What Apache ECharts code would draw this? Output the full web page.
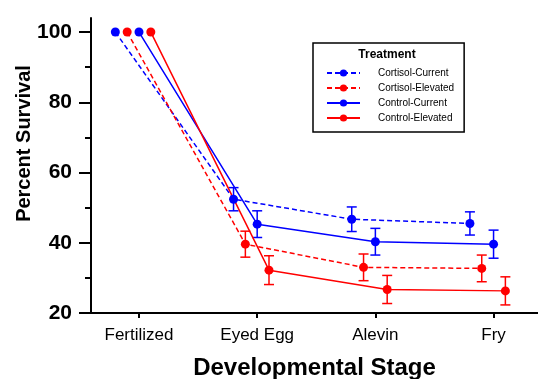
<!DOCTYPE html>
<html>
<head>
<meta charset="utf-8">
<script src="https://cdn.jsdelivr.net/npm/echarts@6/dist/echarts.min.js"></script>
<style>
  html, body { margin: 0; padding: 0; background: #fff; }
  #chart { width: 538px; height: 379px; }
</style>
</head>
<body>
<div id="chart"></div>
<script>
// stages on the x axis
var stages = ['Fertilized', 'Eyed Egg', 'Alevin', 'Fry']
var yTicks = [20, 40, 60, 80, 100]
var yMinorTicks = [30, 50, 70, 90]

// mean percent survival per treatment
var cortisolCurrent = [100, 52.4, 46.7, 45.5]
var cortisolElevated = [100, 39.6, 33.0, 32.7]
var controlCurrent = [100, 45.3, 40.3, 39.6]
var controlElevated = [100, 32.2, 26.7, 26.3]

// error (+/-) per treatment
var cortisolCurrentErr = [0, 3.3, 3.5, 3.3]
var cortisolElevatedErr = [0, 3.7, 3.8, 3.8]
var controlCurrentErr = [0, 3.8, 3.8, 4.0]
var controlElevatedErr = [0, 4.1, 4.0, 4.0]

var BLUE = '#0000ff'
var RED = '#ff0000'
var FONT = 'Liberation Sans, Arial, sans-serif'

// horizontal dodge so the groups do not overlap
function pts(values, dodge) {
    return values.map(function (v, i) { return [i + dodge, v] })
}

function lineSeries(name, color, values, dodge, dashed) {
    return {
        name: name,
        type: 'line',
        data: pts(values, dodge),
        symbol: 'circle',
        symbolSize: 9,
        itemStyle: { color: color },
        lineStyle: { color: color, width: 1.5, type: dashed ? [5, 3] : 'solid' },
        z: 3
    }
}

function errSeries(name, color, values, errs, dodge) {
    return {
        name: name + ' err',
        type: 'custom',
        silent: true,
        data: values.map(function (v, i) { return [i + dodge, v - errs[i], v + errs[i]] }),
        encode: { x: 0, y: [1, 2] },
        renderItem: function (params, api) {
            if (api.value(2) - api.value(1) === 0) return
            var lo = api.coord([api.value(0), api.value(1)])
            var hi = api.coord([api.value(0), api.value(2)])
            var w = 5
            var style = { stroke: color, lineWidth: 1.5 }
            return {
                type: 'group',
                children: [
                    { type: 'line', shape: { x1: hi[0], y1: hi[1], x2: lo[0], y2: lo[1] }, style: style },
                    { type: 'line', shape: { x1: hi[0] - w, y1: hi[1], x2: hi[0] + w, y2: hi[1] }, style: style },
                    { type: 'line', shape: { x1: lo[0] - w, y1: lo[1], x2: lo[0] + w, y2: lo[1] }, style: style }
                ]
            }
        },
        z: 2
    }
}

var myChart = echarts.init(document.getElementById('chart'))
var option = {
    backgroundColor: '#FFFFFF',
    animation: false,
    grid: { left: 91, right: 0, top: 18, bottom: 66, outerBoundsMode: 'none' },
    graphic: [{
        type: 'text',
        x: 387,
        y: 49,
        style: { text: 'Treatment', font: 'bold 12px ' + FONT, fill: '#000', textAlign: 'center' }
    }],
    legend: {
        orient: 'vertical',
        left: 313,
        top: 43,
        padding: [25, 10, 9, 13],
        borderColor: '#000',
        borderWidth: 1.5,
        itemWidth: 33,
        itemHeight: 9,
        itemGap: 5,
        data: ['Cortisol-Current', 'Cortisol-Elevated', 'Control-Current', 'Control-Elevated'],
        textStyle: { fontFamily: FONT, fontSize: 10, color: '#000', padding: [0, 0, 0, 13] }
    },
    xAxis: {
        type: 'value',
        min: -0.406,
        max: 3.376,
        name: 'Developmental Stage',
        nameLocation: 'middle',
        nameGap: 43,
        nameMoveOverlap: false,
        nameTextStyle: { fontFamily: FONT, fontSize: 24, fontWeight: 'bold', color: '#000' },
        splitLine: { show: false },
        axisLine: { onZero: false, lineStyle: { color: '#000', width: 2 } },
        axisTick: { customValues: [0, 1, 2, 3], length: 5, lineStyle: { color: '#000', width: 2 } },
        axisLabel: {
            customValues: [0, 1, 2, 3],
            margin: 14,
            fontFamily: FONT,
            fontSize: 17,
            color: '#000',
            formatter: function (v) { return stages[Math.round(v)] }
        }
    },
    yAxis: [{
        type: 'value',
        min: 20,
        max: 104,
        name: 'Percent Survival',
        nameLocation: 'middle',
        nameGap: 57,
        nameMoveOverlap: false,
        nameTextStyle: { fontFamily: FONT, fontSize: 20, fontWeight: 'bold', color: '#000', padding: [0, 0, 0, 44] },
        splitLine: { show: false },
        axisLine: { show: true, onZero: false, lineStyle: { color: '#000', width: 2 } },
        axisTick: { customValues: yTicks, length: 12, lineStyle: { color: '#000', width: 2 } },
        axisLabel: {
            customValues: yTicks,
            margin: 19,
            fontFamily: FONT,
            fontSize: 21,
            fontWeight: 'bold',
            color: '#000'
        }
    }, {
        type: 'value',
        min: 20,
        max: 104,
        position: 'left',
        splitLine: { show: false },
        axisLine: { show: false, onZero: false },
        axisTick: { show: true, customValues: yMinorTicks, length: 6, lineStyle: { color: '#000', width: 2 } },
        axisLabel: { show: false }
    }],
    series: [
        errSeries('Cortisol-Current', BLUE, cortisolCurrent, cortisolCurrentErr, -0.2),
        errSeries('Cortisol-Elevated', RED, cortisolElevated, cortisolElevatedErr, -0.1),
        errSeries('Control-Current', BLUE, controlCurrent, controlCurrentErr, 0),
        errSeries('Control-Elevated', RED, controlElevated, controlElevatedErr, 0.1),
        lineSeries('Cortisol-Current', BLUE, cortisolCurrent, -0.2, true),
        lineSeries('Cortisol-Elevated', RED, cortisolElevated, -0.1, true),
        lineSeries('Control-Current', BLUE, controlCurrent, 0, false),
        lineSeries('Control-Elevated', RED, controlElevated, 0.1, false)
    ]
}
myChart.setOption(option)
window.addEventListener('resize', function () {
    myChart.resize()
})
</script>
</body>
</html>
